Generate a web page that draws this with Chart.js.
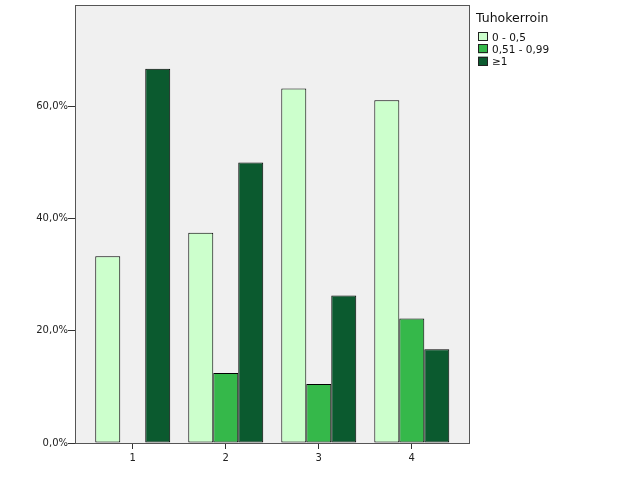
<!DOCTYPE html>
<html>
<head>
<meta charset="utf-8">
<script src="https://cdn.jsdelivr.net/npm/chart.js@4/dist/chart.umd.min.js"></script>
<style>
html, body { margin: 0; padding: 0; background: #fff; }
</style>
</head>
<body>
<canvas id="barChart" width="626" height="501"></canvas>
<script>
// data
var categories = ['1', '2', '3', '4'];
var seriesLabels = ['0 - 0,5', '0,51 - 0,99', '\u22651'];
var low = [33.3, 37.5, 63.2, 61.1];
var mid = [0, 12.5, 10.5, 22.2];
var high = [66.7, 50.0, 26.3, 16.7];
var yTicks = [0, 20, 40, 60];
var legendTitle = 'Tuhokerroin';

var colors = ['#ccffcc', '#35b84a', '#0b5a2f'];
var font = 'DejaVu Sans';

function toPoints(values) {
    return values.map(function (v, i) { return { x: i + 1, y: v }; });
}

// grey plot background + frame
var plotFrame = {
    id: 'plotFrame',
    beforeDraw: function (chart) {
        var a = chart.chartArea, ctx = chart.ctx;
        ctx.save();
        ctx.fillStyle = '#f0f0f0';
        ctx.fillRect(a.left, a.top, a.right - a.left, a.bottom - a.top);
        ctx.restore();
    },
    afterDraw: function (chart) {
        var a = chart.chartArea, ctx = chart.ctx;
        ctx.save();
        ctx.strokeStyle = '#555';
        ctx.lineWidth = 1;
        ctx.strokeRect(Math.round(a.left) - 0.5, Math.round(a.top) - 0.5, Math.round(a.right - a.left) + 1, Math.round(a.bottom - a.top) + 1);
        ctx.restore();
    }
};

// legend at top right, SPSS style
var sideLegend = {
    id: 'sideLegend',
    afterDraw: function (chart) {
        var ctx = chart.ctx;
        var x = 476, y = 22;
        ctx.save();
        ctx.fillStyle = '#111';
        ctx.textBaseline = 'alphabetic';
        ctx.font = '12.5px "' + font + '"';
        ctx.fillText(legendTitle, x, y);
        ctx.font = '10.5px "' + font + '"';
        chart.data.datasets.forEach(function (ds, i) {
            var top = 32 + i * 12.3;
            ctx.fillStyle = ds.backgroundColor;
            ctx.fillRect(478, top, 10, 9);
            ctx.strokeStyle = '#222';
            ctx.lineWidth = 1;
            ctx.strokeRect(478.5, Math.round(top) + 0.5, 9, 8);
            ctx.fillStyle = '#111';
            ctx.fillText(ds.label, 492, top + 8.5);
        });
        ctx.restore();
    }
};

var ctx = document.getElementById('barChart').getContext('2d');
var barChart = new Chart(ctx, {
    type: 'bar',
    data: {
        datasets: [low, mid, high].map(function (vals, i) {
            return {
                label: seriesLabels[i],
                data: toPoints(vals),
                backgroundColor: colors[i],
                borderColor: '#000',
                borderWidth: 1,
                borderSkipped: false,
                inflateAmount: 0
            };
        })
    },
    options: {
        responsive: false,
        animation: false,
        devicePixelRatio: 1,
        categoryPercentage: 0.806,
        barPercentage: 1,
        layout: { padding: { left: 0, top: 4, right: 157, bottom: 0 } },
        plugins: {
            legend: { display: false },
            tooltip: { enabled: false }
        },
        scales: {
            x: {
                type: 'linear',
                offset: false,
                min: 0.39,
                max: 4.615,
                afterBuildTicks: function (scale) {
                    scale.ticks = categories.map(function (c, i) { return { value: i + 1 }; });
                },
                afterFit: function (scale) { scale.height = 58; },
                border: { display: false },
                grid: { offset: false, drawOnChartArea: false, tickLength: 6, color: '#333' },
                ticks: {
                    color: '#222',
                    padding: 3,
                    font: { family: font, size: 10 },
                    callback: function (v) { return categories[v - 1]; }
                }
            },
            y: {
                min: 0,
                max: 77.9,
                afterBuildTicks: function (scale) {
                    scale.ticks = yTicks.map(function (v) { return { value: v }; });
                },
                afterFit: function (scale) { scale.width = 76; },
                border: { display: false },
                grid: { drawOnChartArea: false, tickLength: 8, color: '#333' },
                ticks: {
                    color: '#222',
                    padding: 0,
                    font: { family: font, size: 10 },
                    callback: function (v) { return v.toFixed(1).replace('.', ',') + '%'; }
                }
            }
        }
    },
    plugins: [plotFrame, sideLegend]
});
</script>
</body>
</html>
